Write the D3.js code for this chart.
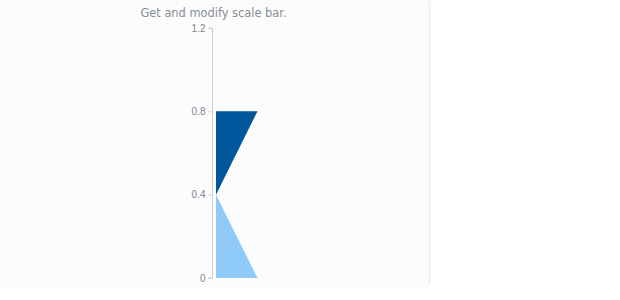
<!DOCTYPE html>
<head>
<meta charset="utf-8">
<style>
    body { margin: 0; background: #fff; }
    svg { display: block; font-family: "DejaVu Sans", Verdana, sans-serif; }
    .tick text { fill: #7c868e; font-size: 10px; }
    .tick line, .domain { stroke: #cecece; }
</style>
<title>Scale Bar</title>
</head>
<body>
    <script src="https://d3js.org/d3.v7.min.js"></script>
    <script>
        // scale bar data
        const tickValues = [0, 0.4, 0.8, 1.2];
        const rangeFrom = [0, 0.4];
        const rangeTo = [0.4, 0.8];
        // relative width of the bar at the start / end of each range
        const widthFrom = [1, 0];
        const widthTo = [0, 1];
        const rangeColors = ['#90caf9', '#01579b'];

        const svg = d3.select('body').append('svg')
            .attr('width', 620)
            .attr('height', 300);

        // chart background panel
        svg.append('rect')
            .attr('x', 0).attr('y', 0)
            .attr('width', 428).attr('height', 287)
            .attr('fill', '#fcfcfc');
        svg.append('line')
            .attr('x1', 429.5).attr('x2', 429.5)
            .attr('y1', 1).attr('y2', 285)
            .attr('stroke', '#efefef')
            .attr('stroke-width', 2);

        svg.append('text')
            .attr('x', 213.5)
            .attr('y', 17)
            .attr('text-anchor', 'middle')
            .attr('fill', '#858e96')
            .attr('font-size', '11.4px')
            .text('Get and modify scale bar.');

        const y = d3.scaleLinear().domain([0, 1.2]).range([278, 28]);
        const w = d3.scaleLinear().domain([0, 1]).range([216, 257.5]);

        const axis = svg.append('g')
            .attr('class', 'axis')
            .attr('transform', 'translate(212.5,0)')
            .call(d3.axisLeft(y)
                .tickValues(tickValues)
                .tickSize(4)
                .tickPadding(3)
                .tickFormat(d => d3.format('~g')(d)));
        axis.select('.domain').attr('d', `M-4,${y(1.2)}H0V${y(0)}H-4`);

        const segments = rangeFrom.map((f, i) => ({
            from: f, to: rangeTo[i], w0: widthFrom[i], w1: widthTo[i], color: rangeColors[i]
        }));

        svg.selectAll('path.range')
            .data(segments)
            .enter().append('path')
            .attr('class', 'range')
            .attr('fill', d => d.color)
            .attr('d', d => {
                const pts = [
                    [w(0), y(d.from)],
                    [w(d.w0), y(d.from)],
                    [w(d.w1), y(d.to)],
                    [w(0), y(d.to)]
                ];
                return d3.line()(pts) + 'Z';
            });
    </script>
</body>
